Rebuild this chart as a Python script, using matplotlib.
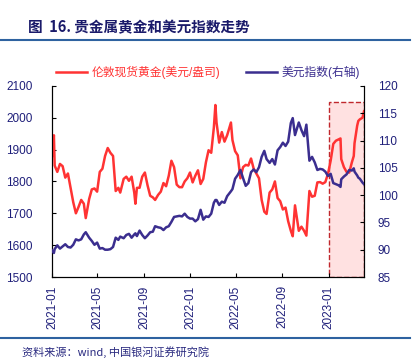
import matplotlib
matplotlib.use("Agg")
import matplotlib.pyplot as plt
import matplotlib.dates as mdates
from matplotlib.patches import Rectangle
from matplotlib.lines import Line2D
import pandas as pd

plt.rcParams['font.family'] = ['Liberation Sans', 'Noto Sans CJK SC', 'DejaVu Sans']

# 日期（周度采样）
dates = [
    "2021-01-01", "2021-01-06", "2021-01-08", "2021-01-15", "2021-01-22", "2021-01-29",
    "2021-02-05", "2021-02-12", "2021-02-19", "2021-02-26", "2021-03-05", "2021-03-12",
    "2021-03-19", "2021-03-26", "2021-03-31", "2021-04-09", "2021-04-16", "2021-04-23",
    "2021-04-30", "2021-05-07", "2021-05-14", "2021-05-21", "2021-05-28", "2021-06-04",
    "2021-06-11", "2021-06-18", "2021-06-25", "2021-06-30", "2021-07-09", "2021-07-16",
    "2021-07-23", "2021-07-30", "2021-08-06", "2021-08-09", "2021-08-13", "2021-08-20",
    "2021-08-27", "2021-09-03", "2021-09-10", "2021-09-17", "2021-09-24", "2021-09-30",
    "2021-10-08", "2021-10-15", "2021-10-22", "2021-10-29", "2021-11-05", "2021-11-12",
    "2021-11-19", "2021-11-26", "2021-12-03", "2021-12-10", "2021-12-17", "2021-12-24",
    "2021-12-31", "2022-01-07", "2022-01-14", "2022-01-21", "2022-01-28", "2022-02-04",
    "2022-02-11", "2022-02-18", "2022-02-25", "2022-03-04", "2022-03-08", "2022-03-11",
    "2022-03-18", "2022-03-25", "2022-04-01", "2022-04-08", "2022-04-18", "2022-04-22",
    "2022-04-29", "2022-05-06", "2022-05-13", "2022-05-20", "2022-05-27", "2022-06-03",
    "2022-06-10", "2022-06-17", "2022-06-24", "2022-07-01", "2022-07-08", "2022-07-15",
    "2022-07-21", "2022-07-29", "2022-08-05", "2022-08-12", "2022-08-19", "2022-08-26",
    "2022-09-02", "2022-09-09", "2022-09-16", "2022-09-23", "2022-09-28", "2022-10-04",
    "2022-10-14", "2022-10-21", "2022-10-28", "2022-11-03", "2022-11-11", "2022-11-18",
    "2022-11-25", "2022-12-02", "2022-12-09", "2022-12-16", "2022-12-23", "2022-12-30",
    "2023-01-06", "2023-01-13", "2023-01-20", "2023-01-27", "2023-02-01", "2023-02-03",
    "2023-02-10", "2023-02-17", "2023-02-24", "2023-03-03", "2023-03-08", "2023-03-10",
    "2023-03-17", "2023-03-20", "2023-03-24", "2023-03-31", "2023-04-04",
]

# 伦敦现货黄金(美元/盎司)
gold = [
    1880, 1945, 1850, 1830, 1855, 1848,
    1812, 1825, 1780, 1735, 1700, 1720,
    1742, 1730, 1685, 1745, 1775, 1778,
    1768, 1830, 1840, 1880, 1905, 1890,
    1880, 1770, 1780, 1765, 1808, 1815,
    1802, 1815, 1765, 1730, 1780, 1780,
    1815, 1828, 1788, 1755, 1750, 1742,
    1758, 1768, 1795, 1785, 1818, 1865,
    1845, 1790, 1782, 1782, 1800, 1810,
    1828, 1797, 1818, 1835, 1792, 1808,
    1860, 1898, 1890, 1970, 2040, 1985,
    1922, 1955, 1925, 1945, 1985, 1930,
    1895, 1882, 1810, 1845, 1852, 1850,
    1872, 1840, 1825, 1810, 1742, 1705,
    1698, 1765, 1775, 1800, 1748, 1738,
    1712, 1718, 1675, 1645, 1628, 1725,
    1645, 1658, 1645, 1630, 1770, 1752,
    1755, 1797, 1798, 1793, 1798, 1824,
    1865, 1918, 1928, 1932, 1935, 1870,
    1845, 1830, 1828, 1860, 1880, 1920,
    1975, 1990, 1995, 2000, 2020,
]

# 美元指数(右轴)
dxy = [
    89.9, 89.4, 90.1, 90.8, 90.2, 90.6,
    91.0, 90.5, 90.4, 90.9, 91.9, 91.7,
    91.9, 92.8, 93.2, 92.2, 91.6, 90.9,
    91.3, 90.2, 90.3, 90.0, 90.0, 90.1,
    90.5, 92.2, 91.8, 92.4, 92.1, 92.7,
    92.9, 92.2, 92.8, 93.0, 92.5, 93.5,
    92.7, 92.1, 92.6, 93.2, 93.3, 94.3,
    94.1, 94.0, 93.6, 94.1, 94.3, 95.1,
    96.0, 96.1, 96.2, 96.1, 96.6, 96.0,
    95.7, 95.7, 95.2, 95.6, 97.3, 95.5,
    96.1, 96.0, 96.6, 98.6, 99.1, 99.1,
    98.2, 98.8, 98.6, 99.8, 100.7, 101.1,
    103.0, 103.7, 104.6, 103.1, 101.7, 102.2,
    104.2, 104.7, 104.2, 105.1, 107.0, 108.1,
    106.6, 105.9, 106.6, 105.6, 108.2, 108.8,
    109.6, 109.0, 109.8, 113.2, 114.1, 111.0,
    113.3, 111.9, 110.8, 112.9, 106.3, 107.0,
    106.0, 104.6, 104.8, 104.7, 104.3, 103.5,
    103.9, 102.2, 102.0, 101.8, 101.5, 102.9,
    103.4, 103.8, 104.6, 104.5, 104.9, 104.3,
    103.6, 103.2, 103.0, 102.3, 102.0,
]

highlight_start = "2023-01-01"
highlight_top = 2050

navy = '#1F1F7A'
red = '#FF3333'
purple = '#3B2E8F'

x = pd.to_datetime(dates)

fig = plt.figure(figsize=(4.16, 3.64), dpi=100)
ax = fig.add_axes([0.125, 0.239, 0.75, 0.525])
ax2 = ax.twinx()

ax.plot(x, gold, color=red, lw=1.8, zorder=3)
ax2.plot(x, dxy, color=purple, lw=1.8, zorder=3)

# 阴影区域
x0 = mdates.date2num(pd.Timestamp(highlight_start))
x1 = mdates.date2num(x[-1])
rect = Rectangle((x0, 1500), x1 - x0, highlight_top - 1500, facecolor='#FFE1E1',
                 edgecolor='#C0282D', linestyle='--', linewidth=1.0, zorder=1)
ax.add_patch(rect)

ax.set_xlim(pd.Timestamp("2021-01-01"), x[-1])
ax.set_ylim(1500, 2100)
ax2.set_ylim(85, 120)
ax.set_yticks(range(1500, 2101, 100))
ax2.set_yticks(range(85, 121, 5))

ax.xaxis.set_major_locator(mdates.MonthLocator(bymonth=[1, 5, 9]))
ax.xaxis.set_major_formatter(mdates.DateFormatter('%Y-%m'))
for lab in ax.get_xticklabels():
    lab.set_rotation(90)

for a in (ax, ax2):
    a.spines['top'].set_visible(False)
    a.tick_params(direction='in', length=3, labelsize=8.5, colors='black',
                  labelcolor=navy)
ax.tick_params(axis='y', pad=14)
ax2.tick_params(axis='y', pad=10)
ax.tick_params(axis='x', pad=6)

handles = [Line2D([], [], color=red, lw=1.8), Line2D([], [], color=purple, lw=1.8)]
leg = fig.legend(handles, ['伦敦现货黄金(美元/盎司)', '美元指数(右轴)'],
                 loc='center', bbox_to_anchor=(0.5, 0.802), ncol=2, frameon=False,
                 fontsize=8.5, handlelength=2.6, columnspacing=2.2, handletextpad=0.4)
for t, c in zip(leg.get_texts(), [red, purple]):
    t.set_color(c)

# 标题与分隔线
fig.text(0.067, 0.925, '图  16. 贵金属黄金和美元指数走势', fontsize=10.5,
         fontweight='bold', color='#1A1A6A', va='center',
         family=['Noto Sans CJK SC', 'DejaVu Sans'])
fig.add_artist(Line2D([0, 0.985], [0.89, 0.89], color='#2E62A0', lw=1.5))
fig.add_artist(Line2D([0, 0.985], [0.071, 0.071], color='#2E62A0', lw=1.5))
fig.text(0.053, 0.033, '资料来源：wind, 中国银河证券研究院', fontsize=8,
         style='italic', color='#2A2A80', va='center',
         family=['Noto Sans CJK SC', 'DejaVu Sans'])

fig.savefig('out.png', dpi=100, facecolor='white')
